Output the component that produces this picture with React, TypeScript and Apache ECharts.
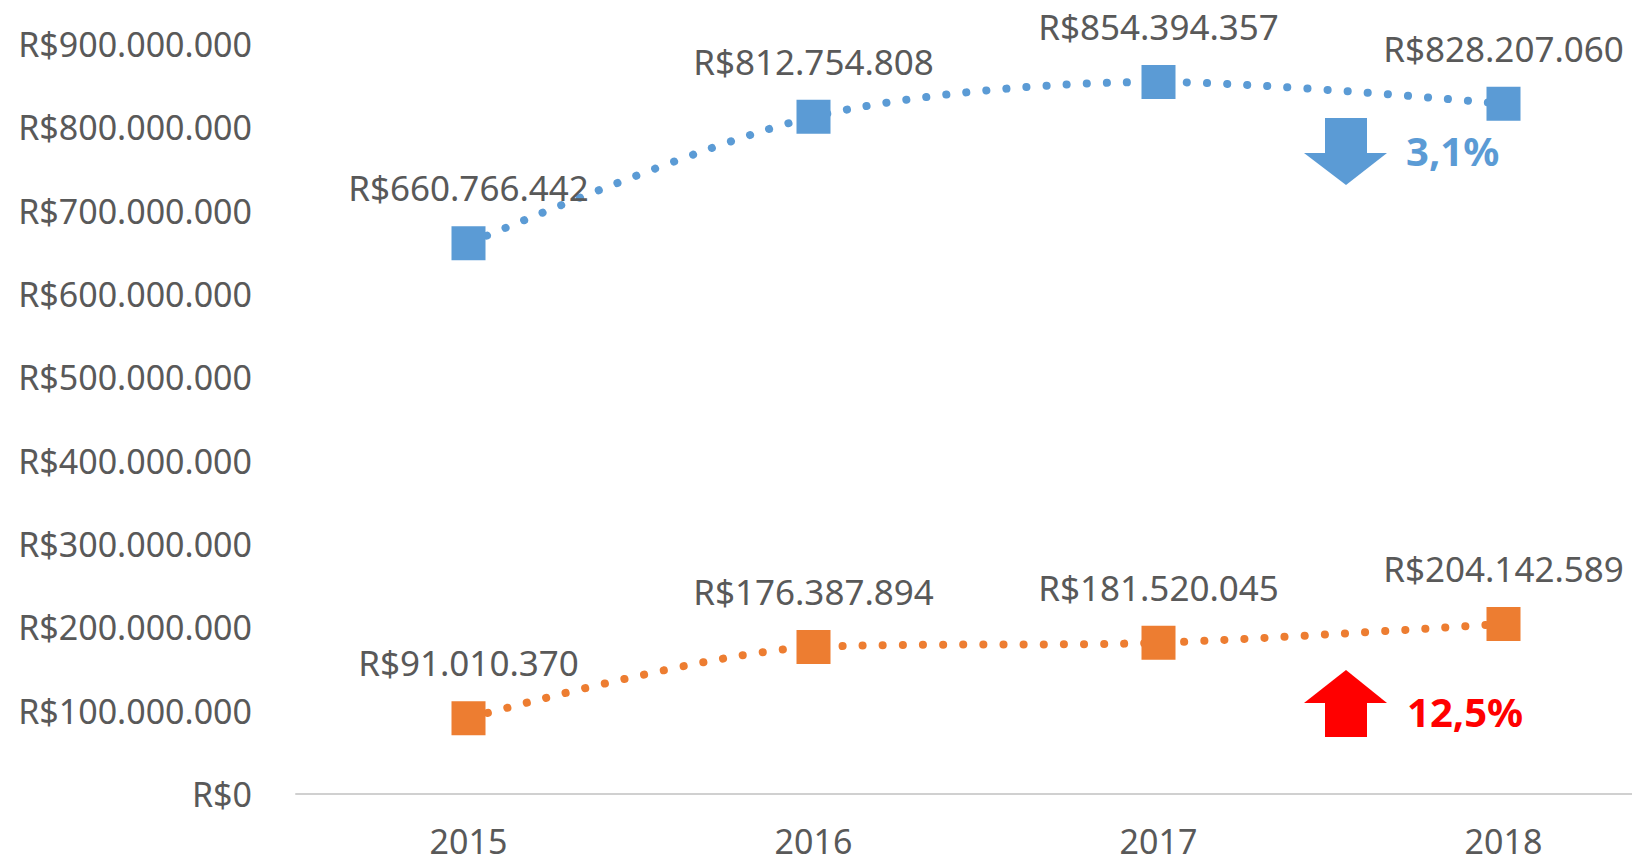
import React, { useEffect, useRef } from "react";
import * as echarts from "echarts";

const categories = ["2015", "2016", "2017", "2018"];
const seriesBlue = [660766442, 812754808, 854394357, 828207060];
const seriesOrange = [91010370, 176387894, 181520045, 204142589];
const yMin = 0;
const yMax = 900000000;
const yInterval = 100000000;
const blueChangeText = "3,1%";
const orangeChangeText = "12,5%";

const fmt = (v: number) => {
  const s = Math.round(v).toString();
  return "R$" + s.replace(/\B(?=(\d{3})+(?!\d))/g, ".");
};

const FONT = "'Noto Sans', 'Open Sans', sans-serif";
const GRAY = "#595959";
const BLUE = "#5B9BD5";
const ORANGE = "#ED7D31";

export default function App() {
  const ref = useRef<HTMLDivElement>(null);
  useEffect(() => {
    document.body.style.margin = "0";
    const chart = echarts.init(ref.current!, null, { renderer: "svg" });
    const lineSeries = (name: string, data: number[], color: string) => ({
      name,
      type: "line",
      data,
      smooth: 0.3,
      symbol: "rect",
      symbolSize: 34,
      itemStyle: { color },
      lineStyle: { color, width: 8, type: [0.1, 20], cap: "round" },
      label: {
        show: true,
        position: "top",
        distance: 21,
        formatter: (p: any) => fmt(p.value),
        color: GRAY,
        fontSize: 35,
        fontFamily: FONT,
      },
    });
    chart.setOption({
      animation: false,
      grid: { left: 296, right: -44, top: 44, bottom: 65, outerBoundsMode: "none" },
      xAxis: {
        type: "category",
        data: categories,
        boundaryGap: true,
        axisLine: { show: true, lineStyle: { color: "#D0D0D0", width: 2 } },
        axisTick: { show: false },
        axisLabel: { color: GRAY, fontSize: 34, fontFamily: FONT, margin: 30 },
      },
      yAxis: {
        type: "value",
        min: yMin,
        max: yMax,
        interval: yInterval,
        splitLine: { show: false },
        axisLine: { show: false },
        axisTick: { show: false },
        axisLabel: {
          color: GRAY,
          fontSize: 34,
          fontFamily: FONT,
          margin: 44,
          formatter: (v: number) => fmt(v),
        },
      },
      series: [lineSeries("Blue", seriesBlue, BLUE), lineSeries("Orange", seriesOrange, ORANGE)],
      graphic: [
        { type: "rect", shape: { x: 1325, y: 118, width: 42, height: 36 }, style: { fill: BLUE } },
        {
          type: "polygon",
          shape: { points: [[1304, 153], [1387, 153], [1346, 185]] },
          style: { fill: BLUE },
        },
        {
          type: "text",
          x: 1406,
          y: 150,
          style: {
            text: blueChangeText,
            fill: BLUE,
            fontSize: 40,
            fontWeight: "bold",
            fontFamily: FONT,
            verticalAlign: "middle",
            align: "left",
          },
        },
        { type: "rect", shape: { x: 1325, y: 702, width: 42, height: 35 }, style: { fill: "#FF0000" } },
        {
          type: "polygon",
          shape: { points: [[1304, 703], [1387, 703], [1346, 670]] },
          style: { fill: "#FF0000" },
        },
        {
          type: "text",
          x: 1407,
          y: 711,
          style: {
            text: orangeChangeText,
            fill: "#FF0000",
            fontSize: 40,
            fontWeight: "bold",
            fontFamily: FONT,
            verticalAlign: "middle",
            align: "left",
          },
        },
      ],
    });
    return () => chart.dispose();
  }, []);
  return (
    <div
      ref={ref}
      style={{ position: "absolute", left: 0, top: 0, width: 1632, height: 859, background: "#fff" }}
    />
  );
}
